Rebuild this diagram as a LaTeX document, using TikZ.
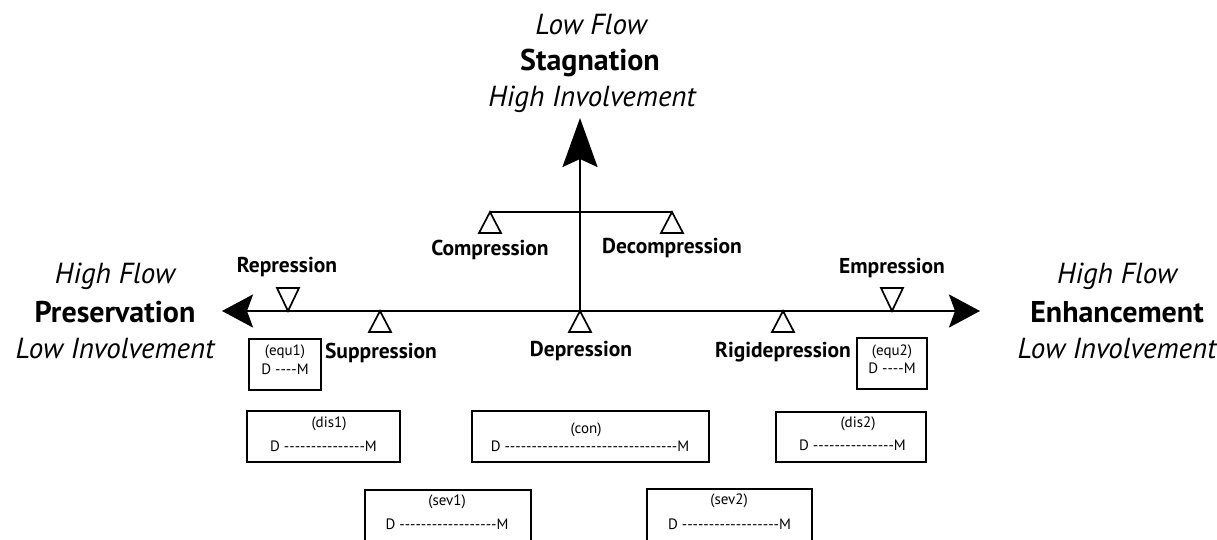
\documentclass[tikz,border=0pt]{standalone}
\usepackage{fontspec}
\setmainfont{PT Sans}
\usetikzlibrary{arrows.meta}
\newcount\hycnt
\newcommand\hyphs[1]{\hycnt=0 \loop\ifnum\hycnt<#1 -\kern0pt\advance\hycnt by 1 \repeat}
\tikzset{
  axis/.style={line width=2.4pt, line cap=butt},
  tri/.style={draw, line width=1.7pt, fill=white, line join=miter},
  bigl/.style={font=\fontsize{30}{34}\selectfont\bfseries, anchor=base, inner sep=0pt},
  ital/.style={font=\fontsize{29}{33}\selectfont\itshape, anchor=base, inner sep=0pt},
  lab/.style={font=\fontsize{21.5}{25}\selectfont\bfseries, anchor=base, inner sep=0pt},
  bt/.style={font=\fontsize{15}{17}\selectfont, anchor=base, inner sep=0pt},
  box/.style={draw, line width=2pt, inner sep=0pt},
  harrow/.tip={Stealth[length=31pt, width=33pt, inset=6pt]},
  varrow/.tip={Stealth[length=49pt, width=35pt, inset=8pt]},
}
\begin{document}
\begin{tikzpicture}[x=1pt, y=-1pt]
\useasboundingbox (0,0) rectangle (1217,540);
% axis points
\coordinate (L) at (222,311);
\coordinate (R) at (980,311);
\coordinate (O) at (580,311);
\coordinate (T) at (580,118);
\coordinate (BL) at (490,212);
\coordinate (BR) at (672,212);
\coordinate (BC) at (580,212);
\coordinate (rep) at (288,311);
\coordinate (sup) at (380,311);
\coordinate (rig) at (783,311);
\coordinate (emp) at (892,311);
% axes
\draw[axis, harrow-harrow] (L) -- (R);
\draw[axis, -varrow] (O) -- (T);
\draw[axis] (BL) -- (BR);
% triangles (fulcrums)
\draw[tri] (BL) -- ++(-11,21) -- ++(22,0) -- cycle;
\draw[tri] (BR) -- ++(-11,21) -- ++(22,0) -- cycle;
\draw[tri] (O) -- ++(-11,21) -- ++(22,0) -- cycle;
\draw[tri] (sup) -- ++(-11,21) -- ++(22,0) -- cycle;
\draw[tri] (rig) -- ++(-11,21) -- ++(22,0) -- cycle;
\draw[tri] (rep) -- ++(-11,-23) -- ++(22,0) -- cycle;
\draw[tri] (emp) -- ++(-11,-23) -- ++(22,0) -- cycle;
% end labels
\node[ital] (lhf) at (115,283) {High Flow};
\node[bigl] (pres) at (115,322) {Preservation};
\node[ital] (lli) at (115,358) {Low Involvement};
\node[ital] (rhf) at (1117,283) {High Flow};
\node[bigl] (enh) at (1117,322) {Enhancement};
\node[ital] (rli) at (1117,358) {Low Involvement};
\node[ital] (tlf) at (591,35) {Low Flow};
\node[bigl] (stag) at (590,71) {Stagnation};
\node[ital] (thi) at (592,107) {High Involvement};
% state labels
\node[lab] (repl) at (287,272) {Repression};
\node[lab] (supl) at (381,358) {Suppression};
\node[lab] (coml) at (490,255) {Compression};
\node[lab] (decl) at (672,253) {Decompression};
\node[lab] (depl) at (581,356) {Depression};
\node[lab] (rigl) at (783,357) {Rigidepression};
\node[lab] (empl) at (892,273) {Empression};
% boxes
\node[box, minimum width=72, minimum height=51] (equ1) at (285,364.5) {};
\node[bt] (equ1a) at (285,355) {(equ1)};
\node[bt] (equ1b) at (285,374) {D \hyphs{4}M};
\node[box, minimum width=70, minimum height=51] (equ2) at (892,363.5) {};
\node[bt] (equ2a) at (892,355) {(equ2)};
\node[bt] (equ2b) at (892,373) {D \hyphs{4}M};
\node[box, minimum width=153, minimum height=51] (dis1) at (323.5,436.5) {};
\node[bt] (dis1a) at (329,427) {(dis1)};
\node[bt] (dis1b) at (323.5,451) {D \hyphs{15}M};
\node[box, minimum width=237, minimum height=51] (con) at (590.5,436.5) {};
\node[bt] (cona) at (586,433) {(con)};
\node[bt] (conb) at (590,451) {D \hyphs{32}M};
\node[box, minimum width=150, minimum height=50] (dis2) at (851,437) {};
\node[bt] (dis2a) at (858,427) {(dis2)};
\node[bt] (dis2b) at (852.5,450) {D \hyphs{15}M};
\node[box, minimum width=166, minimum height=60] (sev1) at (448,520) {};
\node[bt] (sev1a) at (447,505) {(sev1)};
\node[bt] (sev1b) at (447,529) {D \hyphs{18}M};
\node[box, minimum width=165, minimum height=60] (sev2) at (729.5,519) {};
\node[bt] (sev2a) at (729,504) {(sev2)};
\node[bt] (sev2b) at (729.5,529) {D \hyphs{18}M};
\end{tikzpicture}
\end{document}
